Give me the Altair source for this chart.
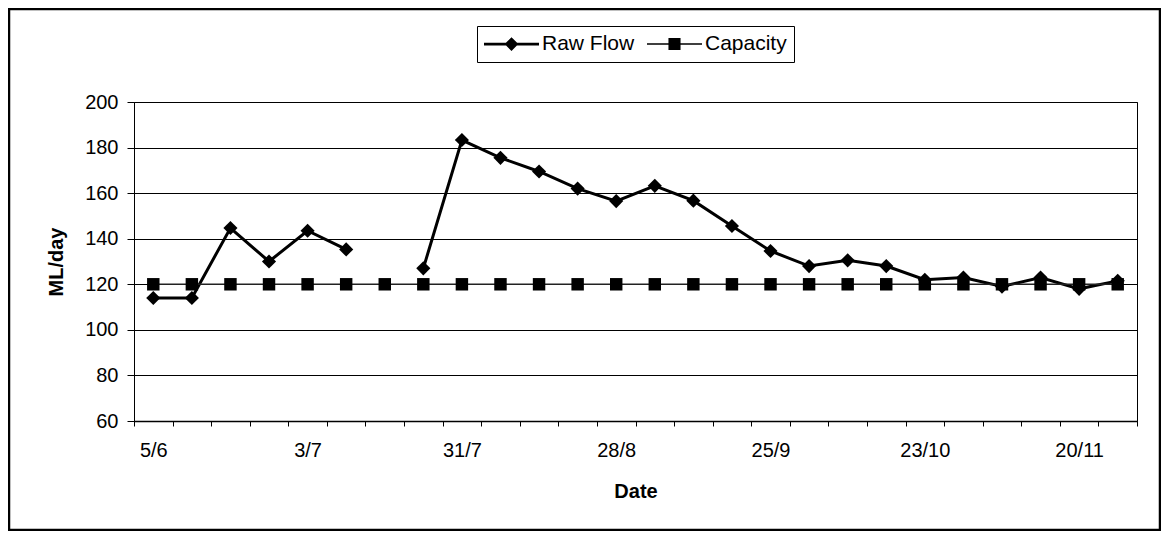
import json
import pandas as pd
import altair as alt

# ---- data ----
dates = ["5/6", "12/6", "19/6", "26/6", "3/7", "10/7", "17/7", "24/7", "31/7",
         "7/8", "14/8", "21/8", "28/8", "4/9", "11/9", "18/9", "25/9", "2/10",
         "9/10", "16/10", "23/10", "30/10", "6/11", "13/11", "20/11", "27/11"]
raw_flow = [114, 114, 144.7, 130, 143.5, 135.3, None, 127, 183.3, 175.5, 169.5,
            162, 156.5, 163.2, 156.7, 145.6, 134.6, 128, 130.5, 128, 122, 123,
            119, 123, 118, 121.5]
capacity = [120, 120, 120, 120, 120, 120, 120, 120, 120, 120, 120, 120, 120,
            120, 120, 120, 120, 120, 120, 120, 120, 120, 120, 120, 120, 120]
series_names = ["Raw Flow", "Capacity"]
y_ticks = [60, 80, 100, 120, 140, 160, 180, 200]
label_every = 4

# ---- build table ----
rows = []
for name, vals in zip(series_names, [raw_flow, capacity]):
    seg = 0
    for i, (d, v) in enumerate(zip(dates, vals)):
        if v is None:
            seg += 1
            continue
        rows.append({"series": name, "idx": i, "date": d, "value": v, "seg": seg})
df = pd.DataFrame(rows)

n = len(dates)
W, H = 1003, 319
band = W / n
FONT = "Liberation Sans, Arial, sans-serif"

tick_values = [i - 0.5 for i in range(n + 1)]
label_expr = (f"(datum.value + 0.5) % {label_every} == 0 && datum.value + 0.5 < {n} ? "
              f"{json.dumps(dates)}[datum.value + 0.5] : ''")

x_enc = alt.X("idx:Q",
              scale=alt.Scale(domain=[-0.5, n - 0.5], nice=False, zero=False),
              axis=alt.Axis(values=tick_values, labelExpr=label_expr,
                            labelOffset=band / 2, labelFlush=False,
                            labelOverlap=False, labelBound=False, grid=False,
                            tickSize=5, tickColor="black", domainColor="black",
                            domainWidth=1.5, labelPadding=14,
                            labelFontSize=20, labelFont=FONT, labelColor="black",
                            title="Date", titleFont=FONT, titleFontSize=20,
                            titleFontWeight="bold", titleColor="black",
                            titlePadding=21))
y_enc = alt.Y("value:Q",
              scale=alt.Scale(domain=[60, 200], nice=False, zero=False),
              axis=alt.Axis(values=y_ticks, grid=True, gridColor="black",
                            gridWidth=1.2, tickSize=7, tickColor="black",
                            domainColor="black", domainWidth=1,
                            labelPadding=9, labelFontSize=20, labelFont=FONT,
                            labelColor="black",
                            title="ML/day", titleFont=FONT, titleFontSize=20,
                            titleFontWeight="bold", titleColor="black",
                            titlePadding=18))

base = alt.Chart(df)

raw = base.transform_filter(alt.datum.series == series_names[0])
cap = base.transform_filter(alt.datum.series == series_names[1])

raw_line = raw.mark_line(color="black", strokeWidth=3).encode(
    x=x_enc, y=y_enc, detail="seg:N")
raw_pts = raw.mark_point(shape="diamond", filled=True, color="black",
                         size=200, opacity=1).encode(x=x_enc, y=y_enc)
cap_line = cap.mark_line(color="#222222", strokeWidth=1.6).encode(
    x=x_enc, y=y_enc, detail="seg:N")
cap_pts = cap.mark_point(shape="square", filled=True, color="black",
                         size=155, opacity=1).encode(x=x_enc, y=y_enc)

# legend (line + marker symbols)
raw_sym = "M-1,-0.05H1V0.05H-1Z M0,-0.25L0.25,0L0,0.25L-0.25,0Z"
cap_sym = "M-1,-0.028H1V0.028H-1Z M-0.22,-0.22H0.22V0.22H-0.22Z"
legend_layer = base.transform_filter("false").mark_point(
    filled=True, color="black", size=3025, opacity=1).encode(
    shape=alt.Shape("series:N",
                    scale=alt.Scale(domain=series_names, range=[raw_sym, cap_sym]),
                    legend=alt.Legend(title=None, orient="none", legendX=343,
                                      legendY=-76, direction="horizontal",
                                      symbolSize=3025, clipHeight=22,
                                      labelOffset=3, columnPadding=12,
                                      padding=7, strokeColor="black",
                                      labelFont=FONT, labelFontSize=21,
                                      labelColor="black", symbolStrokeWidth=0,
                                      symbolFillColor="black")))

# outer chart frame
frame = alt.Chart(pd.DataFrame({"k": [0]})).mark_rect(
    fill="white", fillOpacity=0, stroke="black", strokeWidth=2.5, clip=False
).encode(x=alt.value(-125), x2=alt.value(1026), y=alt.value(-93), y2=alt.value(428))

chart = alt.layer(frame, raw_line, raw_pts, cap_line, cap_pts, legend_layer).properties(
    width=W, height=H,
    autosize=alt.AutoSizeParams(type="none"),
    padding={"left": 126, "top": 94, "right": 24, "bottom": 110},
    background="white",
).configure_view(stroke="black", strokeWidth=1)

chart.save("out.html", embed_options={"renderer": "svg", "actions": False})
